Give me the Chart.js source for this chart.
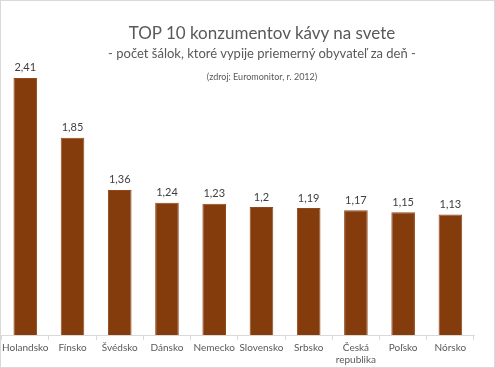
<!DOCTYPE html>
<html><head><meta charset="utf-8">
<script src="https://cdn.jsdelivr.net/npm/chart.js@4/dist/chart.umd.min.js"></script>
<style>
html,body{margin:0;padding:0;background:#fff;}
#wrap{position:relative;width:495px;height:368px;overflow:hidden;font-family:Lato,"Open Sans",sans-serif;}
#frame{position:absolute;left:0;top:0;width:493px;height:366px;border:1px solid #d9d9d9;pointer-events:none;}
canvas{position:absolute;left:0;top:0;}
.t{position:absolute;left:0;width:524px;text-align:center;color:#595959;white-space:nowrap;}
</style></head>
<body>
<div id="wrap">
<canvas id="c" width="495" height="368"></canvas>
<div class="t" style="top:22px;font-size:17px;">TOP 10 konzumentov kávy na svete</div>
<div class="t" style="top:45px;font-size:13px;">- počet šálok, ktoré vypije priemerný obyvateľ za deň -</div>
<div class="t" style="top:71px;font-size:9px;">(zdroj: Euromonitor, r. 2012)</div>
<div id="frame"></div>
</div>
<script>
const categories = ["Holandsko","Fínsko","Švédsko","Dánsko","Nemecko","Slovensko","Srbsko",["Česká","republika"],"Poľsko","Nórsko"];
const values = [2.41,1.85,1.36,1.24,1.23,1.2,1.19,1.17,1.15,1.13];
const valueLabels = ["2,41","1,85","1,36","1,24","1,23","1,2","1,19","1,17","1,15","1,13"];

const labelPlugin = {
  id:'valueLabels',
  afterDatasetsDraw(chart){
    const ctx = chart.ctx;
    const meta = chart.getDatasetMeta(0);
    ctx.save();
    ctx.font = '11px Lato, "Open Sans", sans-serif';
    ctx.fillStyle = '#404040';
    ctx.textAlign = 'center';
    ctx.textBaseline = 'middle';
    meta.data.forEach((bar,i)=>{
      ctx.fillText(valueLabels[i], bar.x, bar.y - 10);
    });
    ctx.restore();
  }
};

new Chart(document.getElementById('c'), {
  type:'bar',
  data:{labels:categories, datasets:[{data:values, backgroundColor:'#843C0C', borderColor:'#8f4a1c', borderWidth:1, barPercentage:0.5, categoryPercentage:1}]},
  options:{
    responsive:false, animation:false,
    layout:{padding:{left:1,right:21,top:15,bottom:0}},
    plugins:{legend:{display:false},tooltip:{enabled:false},title:{display:false}},
    scales:{
      x:{grid:{offset:true,drawOnChartArea:false,drawTicks:true,tickLength:5,color:'#d9d9d9'},
         border:{display:true,color:'#d9d9d9'},
         ticks:{color:'#595959',font:{family:'Lato, "Open Sans", sans-serif',size:10},padding:2,maxRotation:0,autoSkip:false}},
      y:{display:false,min:0,max:3}
    }
  },
  plugins:[labelPlugin]
});
</script>
</body></html>
